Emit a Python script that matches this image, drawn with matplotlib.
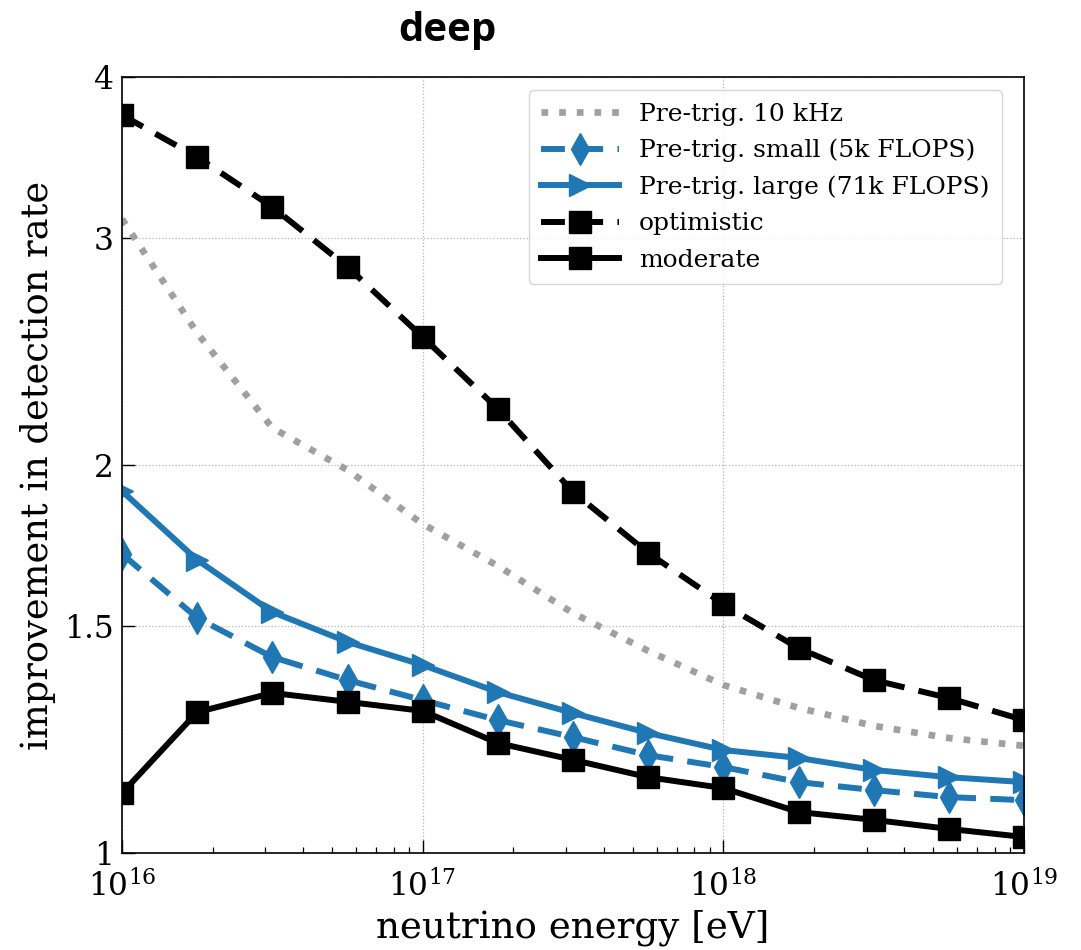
import numpy as np
import matplotlib
matplotlib.use("Agg")
import matplotlib.pyplot as plt
from matplotlib.ticker import NullLocator, FixedLocator, FixedFormatter

# neutrino energies (eV), quarter-decade steps from 1e16 to 1e19
log_energy = [16.0, 16.25, 16.5, 16.75, 17.0, 17.25, 17.5, 17.75, 18.0, 18.25, 18.5, 18.75, 19.0]

pretrig_10khz = [3.104, 2.532, 2.137, 1.982, 1.800, 1.670, 1.535, 1.435, 1.350, 1.296, 1.255, 1.228, 1.211]
pretrig_small = [1.706, 1.522, 1.419, 1.362, 1.314, 1.268, 1.230, 1.191, 1.166, 1.135, 1.119, 1.105, 1.099]
pretrig_large = [1.909, 1.688, 1.538, 1.458, 1.399, 1.333, 1.284, 1.239, 1.202, 1.185, 1.160, 1.145, 1.135]
optimistic = [3.737, 3.467, 3.171, 2.849, 2.514, 2.211, 1.906, 1.709, 1.560, 1.442, 1.362, 1.319, 1.268]
moderate = [1.113, 1.286, 1.331, 1.310, 1.289, 1.217, 1.181, 1.145, 1.123, 1.076, 1.061, 1.044, 1.029]

y_ticks = [1, 1.5, 2, 3, 4]
y_tick_labels = ["1", "1.5", "2", "3", "4"]

plt.rcParams["font.family"] = ["DejaVu Serif"]
plt.rcParams["mathtext.fontset"] = "dejavuserif"

energy = np.power(10.0, log_energy)

fig = plt.figure(figsize=(10.81, 9.5), dpi=100)
ax = fig.add_axes([122 / 1081, 1 - 853 / 950, (1024 - 122) / 1081, (853 - 77) / 950])

lw = 4.3
ms = 16
dash = (0, (4.0, 2.4))
blue = "#1f77b4"

ax.plot(energy, pretrig_10khz, color="#a0a0a0", lw=4.8, ls=":", label="Pre-trig. 10 kHz")
ax.plot(energy, pretrig_small, color=blue, lw=lw, ls=dash, marker="d", ms=ms,
        label="Pre-trig. small (5k FLOPS)")
ax.plot(energy, pretrig_large, color=blue, lw=lw, ls="-", marker=">", ms=ms,
        label="Pre-trig. large (71k FLOPS)")
ax.plot(energy, optimistic, color="black", lw=lw, ls=dash, marker="s", ms=ms,
        label="optimistic")
ax.plot(energy, moderate, color="black", lw=lw, ls="-", marker="s", ms=ms,
        label="moderate")

ax.set_xscale("log")
ax.set_yscale("log")
ax.set_xlim(1e16, 1e19)
ax.set_ylim(1, 4)

ax.yaxis.set_major_locator(FixedLocator(y_ticks))
ax.yaxis.set_major_formatter(FixedFormatter(y_tick_labels))
ax.yaxis.set_minor_locator(NullLocator())

ax.tick_params(axis="both", which="major", direction="in", length=9.5, width=1.0,
               labelsize=22.5, top=False, right=False)
ax.tick_params(axis="x", which="minor", direction="in", length=4.5, width=0.9,
               top=False)
ax.tick_params(axis="x", which="major", pad=13)
ax.tick_params(axis="y", which="major", pad=6)

ax.grid(True, which="major", color="#b5b5b5", ls=":", lw=0.9)

for sp in ax.spines.values():
    sp.set_linewidth(1.2)

ax.set_xlabel("neutrino energy [eV]", fontsize=26.8, labelpad=4)
ax.set_ylabel("improvement in detection rate", fontsize=26.5, labelpad=6)

leg = ax.legend(loc="upper right", bbox_to_anchor=(1 - 22 / 902, 1 - 13 / 776),
                borderaxespad=0, fontsize=18, handlelength=3.1, frameon=True,
                fancybox=True, edgecolor="#cccccc", labelspacing=0.53,
                borderpad=0.5, handletextpad=0.8)

fig.text(447 / 1081, 1 - 30 / 950, "deep", ha="center", va="center",
         fontsize=29, fontweight="bold", family=["Open Sans", "DejaVu Sans"])

fig.savefig("out.png", dpi=100, facecolor="white")
